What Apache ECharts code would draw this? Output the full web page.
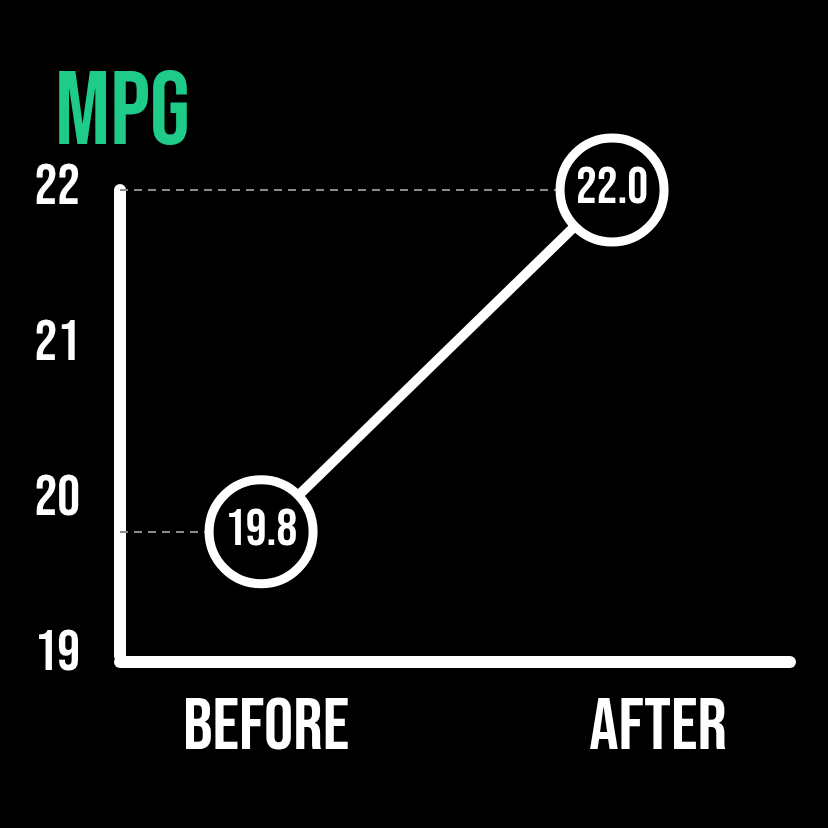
<!DOCTYPE html>
<html>
<head>
<meta charset="utf-8">
<style>html,body{margin:0;padding:0;background:#000;}#c{width:828px;height:828px;}</style>
<script src="https://cdn.jsdelivr.net/npm/echarts@6/dist/echarts.min.js"></script>
</head>
<body>
<div id="c"></div>
<script>
const categories = ['BEFORE', 'AFTER'];
const mpgValues = [19.8, 22.0];
const yTicks = [19, 20, 21, 22];
const titleText = 'MPG';

// pick the narrowest available condensed font
function hasFont(name) {
  const c = document.createElement('canvas').getContext('2d');
  const s = 'BEFORE AFTER 19.8 22.0 MPG';
  for (const fb of ['monospace', 'serif']) {
    c.font = '40px ' + fb;
    const w0 = c.measureText(s).width;
    c.font = "40px '" + name + "', " + fb;
    if (Math.abs(c.measureText(s).width - w0) > 0.5) return true;
  }
  return false;
}
const candidates = ['Bebas Neue', 'Oswald', 'Noto Sans ExtraCondensed', 'Noto Sans Condensed', 'Roboto Condensed', 'Liberation Sans Narrow', 'Arial Narrow', 'DejaVu Sans Condensed'];
const picked = candidates.find(hasFont) || 'DejaVu Sans';
const FONT = "'" + picked + "', sans-serif";
const WEIGHT = 'normal';

function textWidth(t, size) {
  const c = document.createElement('canvas').getContext('2d');
  c.font = WEIGHT + ' ' + size + 'px ' + FONT;
  return c.measureText(t).width;
}

const xMin = -0.402, xMax = 1.507;
const chart = echarts.init(document.getElementById('c'), null, {renderer: 'canvas'});
const points = mpgValues.map((v, i) => [i, v]);
const guideLines = mpgValues.map((v, i) => [{coord: [xMin, v]}, {coord: [i, v]}]);

const titleSize = 104;
const titleScale = Math.min(1, 135 / textWidth(titleText, titleSize));

const labelStyle = {color: '#fff', fontSize: 73, fontWeight: WEIGHT, fontFamily: FONT};

chart.setOption({
  backgroundColor: '#000',
  animation: false,
  graphic: [{
    type: 'text',
    left: 55, top: 66,
    scaleX: titleScale,
    style: {text: titleText, fill: '#1ecb88', font: WEIGHT + ' ' + titleSize + 'px ' + FONT}
  }],
  grid: {left: 120, right: 38, top: 190, bottom: 172, containLabel: false},
  xAxis: {
    type: 'value', min: xMin, max: xMax, offset: 6,
    splitLine: {show: false},
    axisTick: {show: false},
    axisLine: {show: true, onZero: false, lineStyle: {color: '#fff', width: 12, cap: 'round'}},
    axisLabel: {
      customValues: categories.map((c, i) => i),
      formatter: v => '{c' + Math.round(v) + '|' + (categories[Math.round(v)] || '') + '}',
      rich: {
        c0: Object.assign({padding: [0, 0, 0, 10]}, labelStyle),
        c1: Object.assign({padding: [0, 0, 0, 92]}, labelStyle)
      },
      color: '#fff', fontSize: 73, fontWeight: WEIGHT, fontFamily: FONT, margin: 32
    }
  },
  yAxis: {
    type: 'value', min: yTicks[0], max: yTicks[yTicks.length - 1], interval: 1,
    splitLine: {show: false},
    axisTick: {show: false},
    axisLine: {show: true, onZero: false, lineStyle: {color: '#fff', width: 12, cap: 'round'}},
    axisLabel: {color: '#fff', fontSize: 57, fontWeight: WEIGHT, fontFamily: FONT, margin: 40}
  },
  series: [{
    type: 'line',
    data: points,
    symbol: 'circle',
    symbolSize: 104,
    lineStyle: {color: '#fff', width: 10},
    itemStyle: {color: '#000', borderColor: '#fff', borderWidth: 9},
    label: {
      show: true, position: 'inside',
      formatter: p => p.value[1].toFixed(1),
      color: '#fff', fontSize: 52, fontWeight: WEIGHT, fontFamily: FONT
    },
    z: 3,
    markLine: {
      silent: true, symbol: ['none', 'none'],
      label: {show: false},
      lineStyle: {color: '#8a8a8a', type: [8, 6], width: 2},
      data: guideLines,
      z: 1
    }
  }]
});
</script>
</body>
</html>
